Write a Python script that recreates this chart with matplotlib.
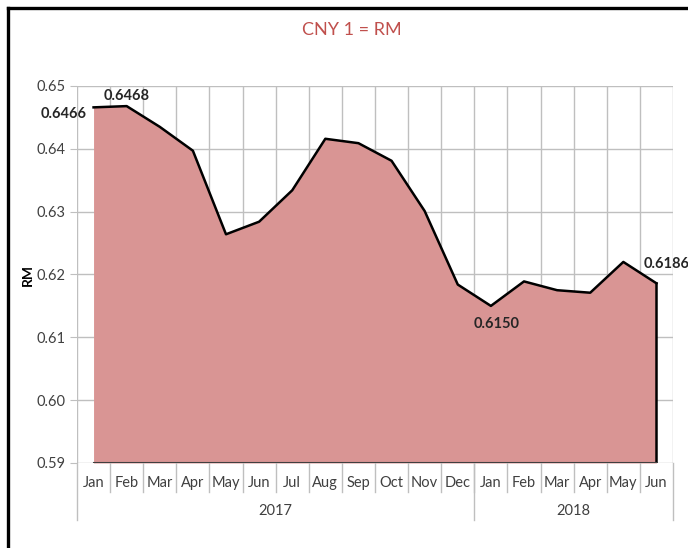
import matplotlib
matplotlib.use("Agg")
import matplotlib.pyplot as plt
from matplotlib.lines import Line2D

# 数据
months = ["Jan", "Feb", "Mar", "Apr", "May", "Jun", "Jul", "Aug", "Sep", "Oct", "Nov", "Dec",
          "Jan", "Feb", "Mar", "Apr", "May", "Jun"]
years = ["2017", "2018"]
year_counts = [12, 6]
rates = [0.6466, 0.6468, 0.6435, 0.6397, 0.6264, 0.6284, 0.6334, 0.6416, 0.6409, 0.6381,
         0.6301, 0.6184, 0.6150, 0.6189, 0.6175, 0.6171, 0.6220, 0.6186]
yticks = [0.59, 0.60, 0.61, 0.62, 0.63, 0.64, 0.65]
ytick_labels = ["0.59", "0.60", "0.61", "0.62", "0.63", "0.64", "0.65"]

FONT = "Lato"
GRID = "#BFBFBF"
FILL = "#D99594"

fig = plt.figure(figsize=(6.88, 5.48), dpi=100)
ax = fig.add_axes([77 / 688, 85 / 548, 596 / 688, 377 / 548])

x = list(range(len(rates)))
ax.fill_between(x, 0.59, rates, color=FILL, linewidth=0, zorder=2)
ax.plot(x, rates, color="black", lw=1.8, zorder=3)
ax.plot([x[-1], x[-1]], [rates[-1], 0.59], color="black", lw=1.8, zorder=3)
ax.plot([x[0], x[-1]], [0.59, 0.59], color="#404040", lw=1.5, zorder=3)

ax.set_xlim(-0.5, len(rates) - 0.5)
ax.set_ylim(0.59, 0.65)
ax.set_yticks(yticks)
ax.set_yticklabels(ytick_labels, fontsize=10.5, family=FONT, color="#404040")
ax.set_xticks([])
for yv in yticks:
    ax.axhline(yv, color=GRID, lw=1, zorder=1)
for i in range(len(rates) + 1):
    ax.axvline(i - 0.5, color=GRID, lw=1, zorder=1)
for s in ax.spines.values():
    s.set_visible(False)
ax.tick_params(axis="y", length=5, color=GRID, pad=3)
ax.set_ylabel("RM", fontsize=10, weight="bold", family=FONT, labelpad=2)

# 两级类别轴:月份+年份
tr = ax.get_xaxis_transform()
for i, m in enumerate(months):
    ax.text(i, -0.053, m, transform=tr, ha="center", va="center", fontsize=10.5,
            family=FONT, color="#404040")
for i in range(1, len(months)):
    ax.add_line(Line2D([i - 0.5, i - 0.5], [0, -0.077], transform=tr, color=GRID, lw=1, clip_on=False))
start = 0
bounds = [-0.5]
for yr, n in zip(years, year_counts):
    ax.text(start + (n - 1) / 2, -0.127, yr, transform=tr, ha="center", va="center",
            fontsize=10.5, family=FONT, color="#404040")
    start += n
    bounds.append(start - 0.5)
for b in bounds:
    ax.add_line(Line2D([b, b], [0, -0.151], transform=tr, color=GRID, lw=1, clip_on=False))

# 数据标签
lab = dict(fontsize=10.5, weight="bold", family=FONT, color="#262626")
ax.annotate(f"{rates[0]:.4f}", (0, rates[0]), xytext=(-5, -5), textcoords="offset points",
            ha="right", va="center", **lab)
ax.annotate(f"{rates[1]:.4f}", (1, rates[1]), xytext=(0, 7), textcoords="offset points",
            ha="center", va="center", **lab)
ax.annotate(f"{rates[12]:.4f}", (12, rates[12]), xytext=(4, -13), textcoords="offset points",
            ha="center", va="center", **lab)
ax.annotate(f"{rates[-1]:.4f}", (17, rates[-1]), xytext=(7, 14), textcoords="offset points",
            ha="center", va="center", **lab)

fig.text(352 / 688, 1 - 30 / 548, "CNY 1 = RM", ha="center", va="center", fontsize=13,
         color="#C0504D", family=FONT)

# 外框(只露出上边和左边)
fig.add_artist(Line2D([8 / 688, 1], [1 - 8 / 548, 1 - 8 / 548], transform=fig.transFigure, color="black", lw=2.4))
fig.add_artist(Line2D([8 / 688, 8 / 688], [0, 1 - 8 / 548], transform=fig.transFigure, color="black", lw=2.4))

fig.savefig("out.png", dpi=100)
